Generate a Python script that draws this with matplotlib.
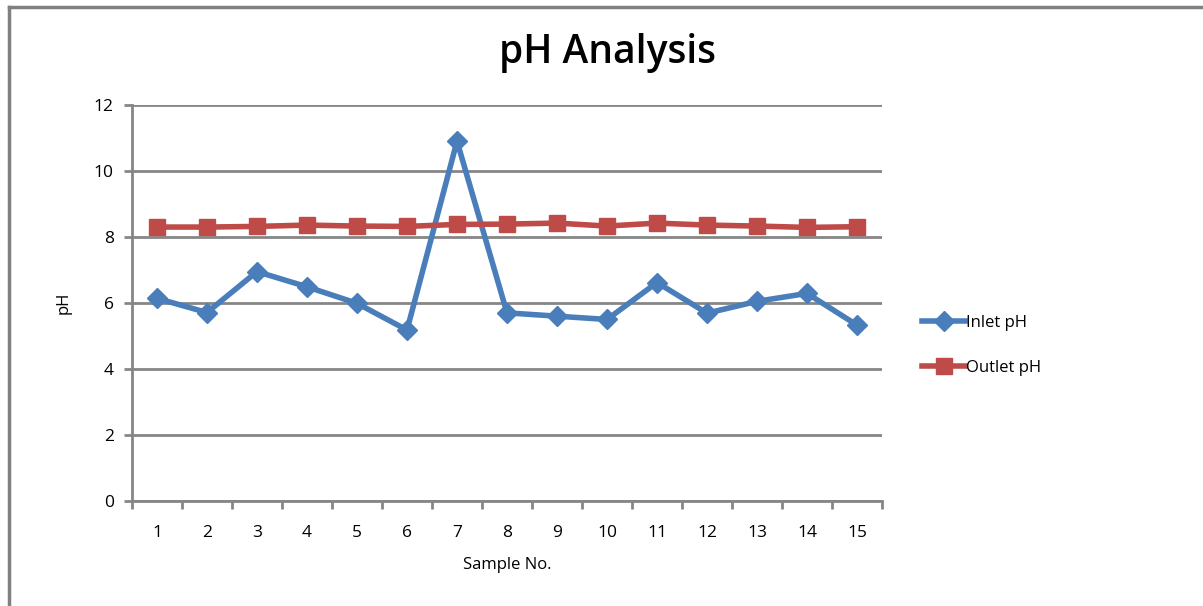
import matplotlib
matplotlib.use('Agg')
import matplotlib.pyplot as plt
from matplotlib.lines import Line2D
import numpy as np

samples = list(range(1, 16))
inlet_ph = [6.14, 5.71, 6.95, 6.49, 5.99, 5.18, 10.9, 5.7, 5.6, 5.5, 6.62, 5.69, 6.05, 6.29, 5.33]
outlet_ph = [8.3, 8.3, 8.32, 8.36, 8.33, 8.32, 8.38, 8.39, 8.42, 8.33, 8.42, 8.36, 8.33, 8.29, 8.31]
y_ticks = [0, 2, 4, 6, 8, 10, 12]

BLUE = '#4a7ebb'
RED = '#be4b48'
GRID = '#868686'

plt.rcParams['font.family'] = ['Open Sans', 'DejaVu Sans']

fig = plt.figure(figsize=(12.03, 6.06), dpi=100)
ax = fig.add_axes([0.1097, 0.1733, 0.6235, 0.6535])

ax.plot(samples, inlet_ph, color=BLUE, lw=4, marker='D', ms=10,
        mfc=BLUE, mec=BLUE, label='Inlet pH', zorder=3)
ax.plot(samples, outlet_ph, color=RED, lw=4, marker='s', ms=12,
        mfc=RED, mec=RED, label='Outlet pH', zorder=3)

ax.set_xlim(0.5, 15.5)
ax.set_ylim(0, 12)
ax.set_yticks(y_ticks)
ax.set_yticklabels([str(v) for v in y_ticks], fontsize=12.5)
ax.set_xticks(np.arange(0.5, 16, 1))
ax.set_xticklabels([])
ax.set_xticks(samples, minor=True)
ax.set_xticklabels([str(s) for s in samples], minor=True, fontsize=12.5)
ax.tick_params(axis='x', which='major', length=6, width=2, color=GRID, direction='out')
ax.tick_params(axis='x', which='minor', length=0, pad=17)
ax.tick_params(axis='y', length=6, width=2, color=GRID, pad=7)

ax.grid(axis='y', color=GRID, lw=2, zorder=0)
ax.set_axisbelow(True)
for side in ['top', 'right']:
    ax.spines[side].set_visible(False)
for side in ['left', 'bottom']:
    ax.spines[side].set_color(GRID)
    ax.spines[side].set_linewidth(2)

ax.set_xlabel('Sample No.', fontsize=12, labelpad=12)
ax.set_ylabel('pH', fontsize=12, labelpad=16)

fig.text(0.505, 0.913, 'pH Analysis', ha='center', va='center',
         fontsize=28, fontweight='semibold')

fig.legend(loc='center left', bbox_to_anchor=(0.754, 0.43), frameon=False,
           fontsize=12, handlelength=2.6, handletextpad=0.05, labelspacing=1.7)

# outer chart frame
fig.add_artist(Line2D([0.0075, 0.0075], [0, 0.988], transform=fig.transFigure, color='#808080', lw=2.5))
fig.add_artist(Line2D([0.0075, 1.0], [0.988, 0.988], transform=fig.transFigure, color='#808080', lw=2.5))

fig.savefig('out.png', dpi=100)
